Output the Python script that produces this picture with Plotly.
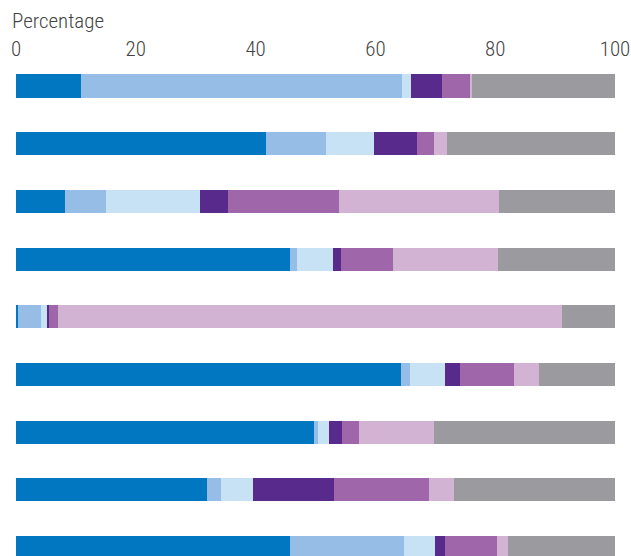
import plotly.graph_objects as go

categories = ["Row 1", "Row 2", "Row 3", "Row 4", "Row 5", "Row 6", "Row 7", "Row 8", "Row 9"]
series_names = ["S1", "S2", "S3", "S4", "S5", "S6", "S7"]
s1 = [10.8, 41.7, 8.1, 45.8, 0.3, 64.3, 49.7, 31.9, 45.8]
s2 = [53.7, 10.0, 7.0, 1.1, 3.9, 1.5, 0.7, 2.3, 18.9]
s3 = [1.5, 8.1, 15.6, 6.0, 1.0, 5.9, 1.9, 5.3, 5.3]
s4 = [5.1, 7.1, 4.7, 1.3, 0.3, 2.4, 2.1, 13.6, 1.6]
s5 = [4.8, 2.8, 18.6, 8.8, 1.5, 9.0, 2.9, 15.8, 8.7]
s6 = [0.2, 2.2, 26.6, 17.5, 84.2, 4.2, 12.4, 4.2, 1.8]
s7 = [23.9, 28.1, 19.4, 19.5, 8.8, 12.7, 30.3, 26.9, 17.9]
tick_vals = [0, 20, 40, 60, 80, 100]

colors = ["#0077c0", "#95bde5", "#c8e2f5", "#572a8b", "#a066aa", "#d3b3d3", "#9b9a9e"]
FONT = "Roboto Condensed, Roboto, sans-serif"

fig = go.Figure()
for name, vals, col in zip(series_names, [s1, s2, s3, s4, s5, s6, s7], colors):
    fig.add_trace(go.Bar(
        y=categories, x=vals, name=name, orientation="h",
        marker=dict(color=col, line=dict(width=0)),
        width=0.4, showlegend=False,
    ))

fig.update_layout(
    barmode="stack",
    width=631, height=556,
    margin=dict(l=16, r=16, t=62, b=0),
    plot_bgcolor="white", paper_bgcolor="white",
    font=dict(family=FONT, size=21, color="#444444", weight=300),
    xaxis=dict(side="top", range=[0, 100], tickvals=tick_vals, showgrid=False,
               zeroline=False, showline=False, ticks="", ticklabelstandoff=1,
               tickfont=dict(family=FONT, size=21, color="#444444", weight=300)),
    yaxis=dict(range=[8.146, -0.416], showticklabels=False, showgrid=False,
               zeroline=False, showline=False, ticks=""),
    annotations=[dict(text="Percentage", xref="paper", yref="paper",
                      x=-0.0097, y=1.083, xanchor="left", yanchor="middle",
                      showarrow=False,
                      font=dict(family=FONT, size=21, color="#444444", weight=300))],
)

fig.write_html("out.html", config={"displayModeBar": False},
               post_script="document.body.style.margin='0';document.body.style.overflow='hidden';")
